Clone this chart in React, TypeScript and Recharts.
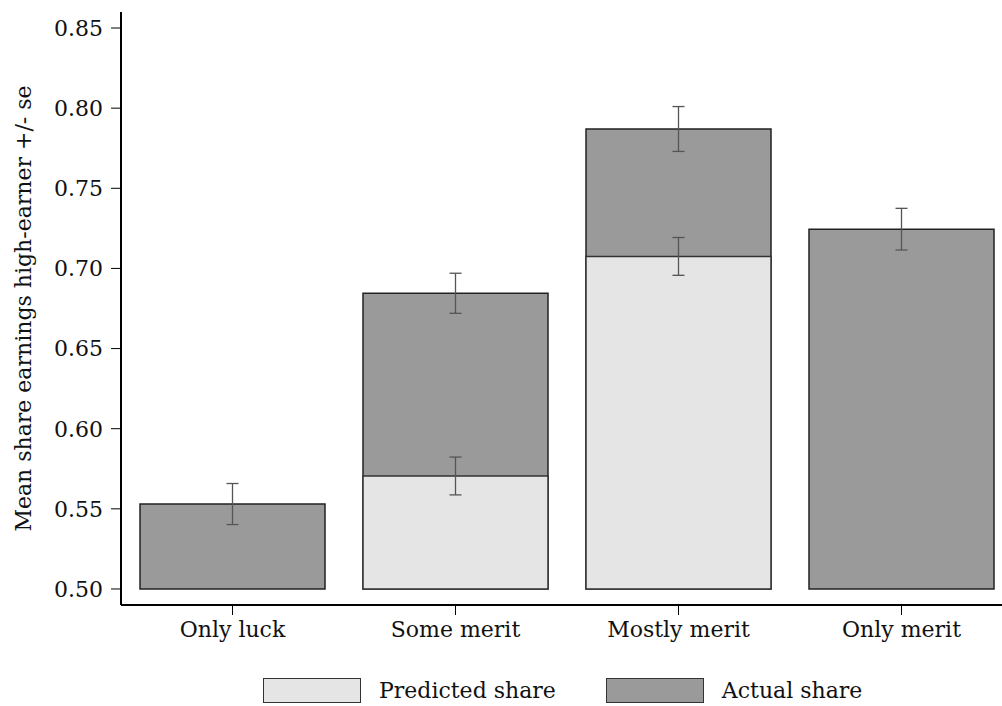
import {
  ComposedChart,
  Bar,
  Scatter,
  ErrorBar,
  XAxis,
  YAxis,
} from 'recharts'

const categories = ['Only luck', 'Some merit', 'Mostly merit', 'Only merit']
const actualShare = [0.553, 0.6845, 0.787, 0.7245]
const actualSe = [0.0128, 0.0125, 0.014, 0.013]
const predictedShare: (number | null)[] = [null, 0.5705, 0.7075, null]
const predictedSe: (number | null)[] = [null, 0.0118, 0.0118, null]
const yTicks = [0.5, 0.55, 0.6, 0.65, 0.7, 0.75, 0.8, 0.85]

// bars start at the bottom gridline, not at zero
const BASELINE = 0.5

const FONT = '"DejaVu Serif", serif'
const ACTUAL_FILL = '#9a9a9a'
const PREDICTED_FILL = '#e5e5e5'

const chartData = categories.map((name, i) => ({
  name,
  actual: actualShare[i],
  actualSe: actualSe[i],
  actualRange: [BASELINE, actualShare[i]],
  predicted: predictedShare[i],
  predictedSe: predictedSe[i],
  predictedRange: predictedShare[i] == null ? null : [BASELINE, predictedShare[i]],
}))

const actualPoints = chartData.map((d) => ({ name: d.name, value: d.actual, se: d.actualSe }))
const predictedPoints = chartData
  .filter((d) => d.predicted != null)
  .map((d) => ({ name: d.name, value: d.predicted, se: d.predictedSe }))

function LegendBox({ fill, label }: { fill: string; label: string }) {
  return (
    <div style={{ display: 'flex', alignItems: 'center' }}>
      <span
        style={{
          width: 98,
          height: 25,
          boxSizing: 'border-box',
          background: fill,
          border: '1.5px solid #333',
          display: 'inline-block',
        }}
      />
      <span style={{ marginLeft: 18, fontFamily: FONT, fontSize: 22, color: '#111', lineHeight: '25px' }}>
        {label}
      </span>
    </div>
  )
}

function ShareLegend() {
  return (
    <div
      style={{
        position: 'absolute',
        left: 263,
        top: 678,
        display: 'flex',
        alignItems: 'center',
        gap: 50,
      }}
    >
      <LegendBox fill={PREDICTED_FILL} label="Predicted share" />
      <LegendBox fill={ACTUAL_FILL} label="Actual share" />
    </div>
  )
}

function YLabel(props: any) {
  const { viewBox } = props
  const cy = viewBox.y + viewBox.height / 2
  const x = 31
  return (
    <text
      x={x}
      y={cy}
      transform={`rotate(-90, ${x}, ${cy})`}
      textAnchor="middle"
      fontFamily={FONT}
      fontSize={22}
      fill="#111"
    >
      Mean share earnings high-earner +/- se
    </text>
  )
}

export default function App() {
  return (
    <div
      style={{
        position: 'absolute',
        left: 0,
        top: 0,
        width: 1002,
        height: 706,
        overflow: 'hidden',
        background: '#fff',
      }}
    >
      <ComposedChart
        width={1030}
        height={706}
        data={chartData}
        margin={{ top: 12, right: 17, bottom: 71, left: 0 }}
      >
        <XAxis
          dataKey="name"
          height={30}
          allowDuplicatedCategory={false}
          tickLine={{ stroke: '#000', strokeWidth: 1 }}
          tickSize={10}
          tickMargin={6}
          axisLine={{ stroke: '#000', strokeWidth: 2 }}
          tick={{ fontFamily: FONT, fontSize: 22, fill: '#111' }}
          interval={0}
        />
        <XAxis xAxisId="over" dataKey="name" hide />
        <YAxis
          width={121}
          type="number"
          domain={[0.49, 0.86]}
          allowDataOverflow
          ticks={yTicks}
          tickFormatter={(v: number) => v.toFixed(2)}
          tickLine={{ stroke: '#000', strokeWidth: 1 }}
          tickSize={10}
          tickMargin={8}
          axisLine={{ stroke: '#000', strokeWidth: 2 }}
          tick={{ fontFamily: FONT, fontSize: 22, fill: '#111' }}
          label={<YLabel />}
        />

        <Bar
          dataKey="actualRange"
          name="Actual share"
          fill={ACTUAL_FILL}
          stroke="#222"
          strokeWidth={1.5}
          barSize={185}
          isAnimationActive={false}
        />
        <Bar
          xAxisId="over"
          dataKey="predictedRange"
          name="Predicted share"
          fill={PREDICTED_FILL}
          stroke="#333"
          strokeWidth={1.5}
          barSize={185}
          isAnimationActive={false}
        />

        <Scatter
          data={actualPoints}
          dataKey="value"
          shape={() => <g />}
          legendType="none"
          isAnimationActive={false}
        >
          <ErrorBar dataKey="se" direction="y" width={6} stroke="#555" strokeWidth={1.3} />
        </Scatter>
        <Scatter
          data={predictedPoints}
          dataKey="value"
          shape={() => <g />}
          legendType="none"
          isAnimationActive={false}
        >
          <ErrorBar dataKey="se" direction="y" width={6} stroke="#555" strokeWidth={1.3} />
        </Scatter>
      </ComposedChart>
      <ShareLegend />
    </div>
  )
}
